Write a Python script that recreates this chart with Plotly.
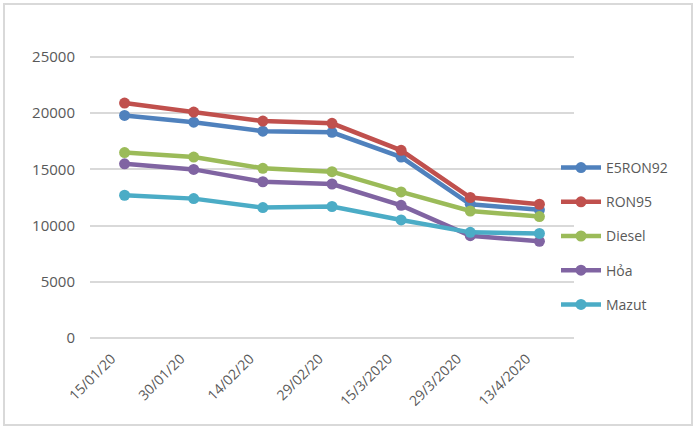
import plotly.graph_objects as go

# Dữ liệu giá xăng dầu
dates = ['15/01/20', '30/01/20', '14/02/20', '29/02/20', '15/3/2020', '29/3/2020', '13/4/2020']
e5ron92 = [19800, 19200, 18400, 18300, 16100, 11900, 11400]
ron95 = [20900, 20100, 19300, 19100, 16700, 12500, 11900]
diesel = [16500, 16100, 15100, 14800, 13000, 11300, 10800]
hoa = [15500, 15000, 13900, 13700, 11800, 9100, 8600]
mazut = [12700, 12400, 11600, 11700, 10500, 9400, 9300]

names = ['E5RON92', 'RON95', 'Diesel', 'Hỏa', 'Mazut']
series = [e5ron92, ron95, diesel, hoa, mazut]
colors = ['#4F81BD', '#C0504D', '#9BBB59', '#8064A2', '#4BACC6']

fig = go.Figure()
for name, vals, c in zip(names, series, colors):
    fig.add_trace(go.Scatter(
        x=dates, y=vals, name=name, legendgroup=name,
        mode='lines+markers',
        line=dict(color=c, width=4.5),
        marker=dict(color=c, size=11),
    ))

# khung viền ngoài của biểu đồ
l, r, t, b = 90, 126, 52, 94
pw, ph = 700 - l - r, 432 - t - b

fig.update_layout(
    width=700, height=432,
    margin=dict(l=l, r=r, t=t, b=b),
    paper_bgcolor='white', plot_bgcolor='white',
    font=dict(family='Open Sans, Lato, sans-serif', color='#595959', size=14),
    showlegend=True,
    legend=dict(
        x=(556 - l) / pw, y=(432 - b - 152) / ph, xanchor='left', yanchor='top',
        font=dict(size=14, color='#595959'),
        tracegroupgap=13, itemwidth=40, bgcolor='rgba(0,0,0,0)',
    ),
    xaxis=dict(
        type='category', showgrid=False, zeroline=False, showline=False,
        tickangle=-45, tickfont=dict(size=14), ticks='',
        range=[-0.5, 6.5], ticklabelshift=-13, ticklabelstandoff=9,
    ),
    yaxis=dict(
        range=[0, 25445], dtick=5000, tickformat='d', showgrid=True, gridcolor='#D9D9D9',
        gridwidth=1.5, zeroline=True, zerolinecolor='#D9D9D9', zerolinewidth=1.5,
        showline=False, tickfont=dict(size=15), ticklabelstandoff=14,
    ),
    shapes=[dict(
        type='rect', xref='paper', yref='paper',
        x0=(4 - l) / pw, x1=(692 - l) / pw,
        y0=(432 - b - 425) / ph, y1=(432 - b - 4) / ph,
        line=dict(color='#D9D9D9', width=2), fillcolor='rgba(0,0,0,0)',
        layer='above',
    )],
)

fig.write_html('out.html', config={'displayModeBar': False},
               post_script="document.body.style.margin='0';")
